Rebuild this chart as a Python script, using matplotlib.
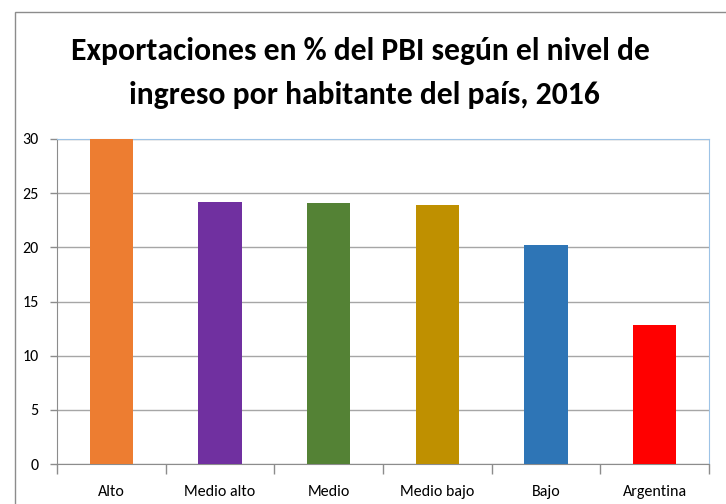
import matplotlib.pyplot as plt
from matplotlib.patches import Rectangle

categorias = ['Alto', 'Medio alto', 'Medio', 'Medio bajo', 'Bajo', 'Argentina']
valores = [30.0, 24.15, 24.05, 23.95, 20.2, 12.8]
colores = ['#ED7D31', '#7030A0', '#548235', '#BF9000', '#2E75B6', '#FF0000']
yticks = [0, 5, 10, 15, 20, 25, 30]

plt.rcParams['font.family'] = ['Carlito', 'DejaVu Sans']

fig = plt.figure(figsize=(7.26, 5.04), dpi=100)
ax = fig.add_axes([57/726, 40/504, (709-57)/726, (464-139)/504])

# borde del gráfico
fig.patches.append(Rectangle((15/726, -0.1), 1.2, (504-12)/504 + 0.1, transform=fig.transFigure,
                             fill=False, edgecolor='#8C8C8C', linewidth=1))

x = range(len(categorias))
ax.bar(x, valores, width=0.4, color=colores, zorder=3)

ax.set_xlim(-0.5, 5.5)
ax.set_ylim(0, 30)
ax.set_yticks(yticks)
ax.set_xticks(list(x))
ax.set_xticklabels(categorias)
ax.set_xticks([i - 0.5 for i in range(len(categorias) + 1)], minor=True)
ax.tick_params(axis='x', which='major', length=0, pad=15, labelsize=11.5, colors='black')
ax.tick_params(axis='x', which='minor', length=7, width=1, color='#8C8C8C')
ax.tick_params(axis='y', length=5, width=1, color='#8C8C8C', labelsize=11.5, pad=8)

ax.grid(axis='y', color='#A6A6A6', linewidth=1, zorder=0)
ax.spines['left'].set_color('#8C8C8C')
ax.spines['bottom'].set_color('#8C8C8C')
ax.spines['top'].set_color('#9DC3E6')
ax.spines['right'].set_color('#9DC3E6')

fig.text(0.497, 1 - 51/504, 'Exportaciones en % del PBI según el nivel de',
         ha='center', va='center', fontsize=22.8, fontweight='bold')
fig.text(0.502, 1 - 95/504, 'ingreso por habitante del país, 2016',
         ha='center', va='center', fontsize=22.8, fontweight='bold')

fig.savefig('out.png', dpi=100)
